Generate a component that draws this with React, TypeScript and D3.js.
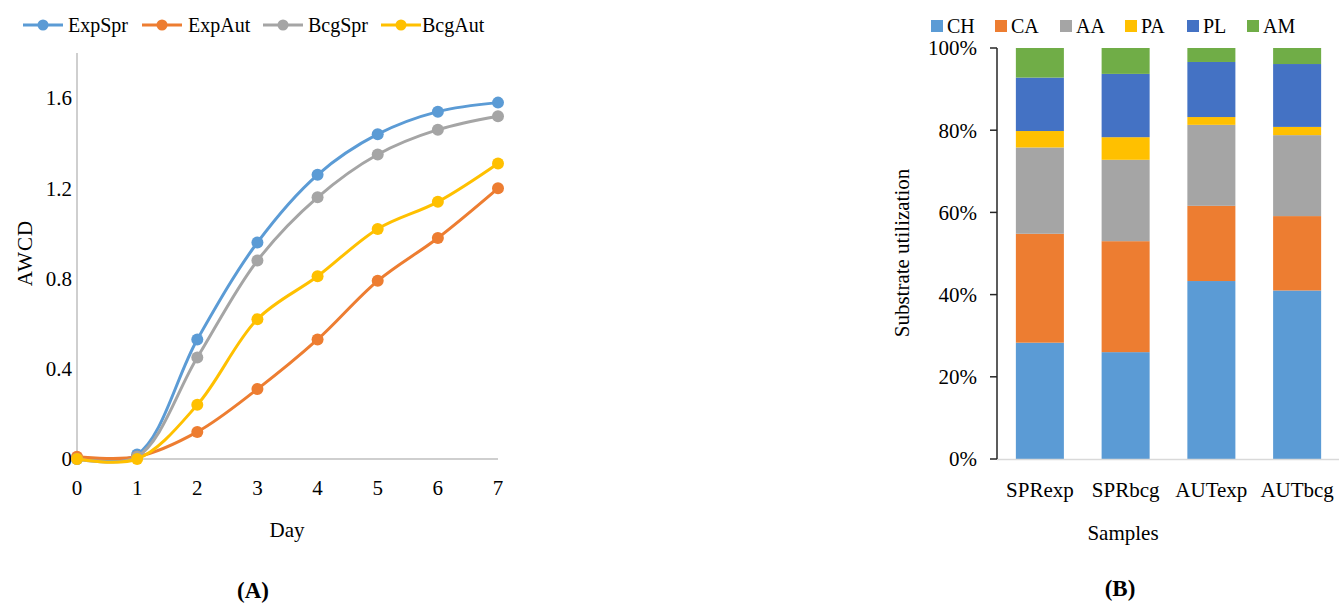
import React from "react";
import * as d3 from "d3";

const days = [0, 1, 2, 3, 4, 5, 6, 7];
const lineSeries = ["ExpSpr", "ExpAut", "BcgSpr", "BcgAut"];
const expSpr = [0, 0.02, 0.53, 0.96, 1.26, 1.44, 1.54, 1.58];
const expAut = [0.01, 0.01, 0.12, 0.31, 0.53, 0.79, 0.98, 1.2];
const bcgSpr = [0, 0.01, 0.45, 0.88, 1.16, 1.35, 1.46, 1.52];
const bcgAut = [0, 0, 0.24, 0.62, 0.81, 1.02, 1.14, 1.31];
const lineColors = ["#5B9BD5", "#ED7D31", "#A5A5A5", "#FFC000"];
const yTicksA = [0, 0.4, 0.8, 1.2, 1.6];

const samples = ["SPRexp", "SPRbcg", "AUTexp", "AUTbcg"];
const substrates = ["CH", "CA", "AA", "PA", "PL", "AM"];
const CH = [28.3, 26, 43.3, 41];
const CA = [26.5, 27, 18.3, 18.1];
const AA = [21, 19.8, 19.7, 19.7];
const PA = [4, 5.5, 1.9, 2];
const PL = [13, 15.4, 13.4, 15.3];
const AM = [7.2, 6.3, 3.4, 3.9];
const barColors = ["#5B9BD5", "#ED7D31", "#A5A5A5", "#FFC000", "#4472C4", "#70AD47"];
const yTicksB = [0, 20, 40, 60, 80, 100];

const FONT = "'Liberation Serif', 'Times New Roman', serif";

export default function App() {
  const lineData = [expSpr, expAut, bcgSpr, bcgAut];
  const x = d3.scaleLinear().domain([0, 7]).range([77, 498]);
  const y = d3.scaleLinear().domain([0, 1.8]).range([459, 53]);
  const line = d3
    .line<number>()
    .x((_, i) => x(days[i]))
    .y((d) => y(d))
    .curve(d3.curveCatmullRom.alpha(0.5));

  const legendA = [
    { lx: 23, tx: 68 },
    { lx: 142, tx: 188 },
    { lx: 263, tx: 308 },
    { lx: 381, tx: 422 },
  ];

  // Chart B
  const cols = [CH, CA, AA, PA, PL, AM];
  const rows = samples.map((s, i) => {
    const r: any = { sample: s };
    substrates.forEach((k, j) => (r[k] = cols[j][i]));
    return r;
  });
  const stacked = d3.stack().keys(substrates).offset(d3.stackOffsetExpand)(rows);
  const xb = d3.scaleBand().domain(samples).range([997, 1340]).paddingInner(0.44).paddingOuter(0.22);
  const yb = d3.scaleLinear().domain([0, 1]).range([459, 48]);
  const legendB = [931, 995, 1060, 1125, 1187, 1247];

  return (
    <svg
      width={1339}
      height={608}
      style={{ position: "absolute", left: 0, top: 0, background: "#fff" }}
      fontFamily={FONT}
    >
      <rect width={1339} height={608} fill="#fff" />
      {/* Chart A */}
      <g>
        {lineSeries.map((s, i) => (
          <g key={s}>
            <line x1={legendA[i].lx} x2={legendA[i].lx + 40} y1={25} y2={25} stroke={lineColors[i]} strokeWidth={3} />
            <circle cx={legendA[i].lx + 20} cy={25} r={5.5} fill={lineColors[i]} />
            <text x={legendA[i].tx} y={25} dy="0.35em" fontSize={20}>
              {s}
            </text>
          </g>
        ))}
        <line x1={x(0)} x2={x(0)} y1={53} y2={459} stroke="#BFBFBF" strokeWidth={1.5} />
        <line x1={x(0)} x2={x(7)} y1={459} y2={459} stroke="#BFBFBF" strokeWidth={1.5} />
        {yTicksA.map((t) => (
          <text key={t} x={72} y={y(t)} dy="0.35em" textAnchor="end" fontSize={21}>
            {t === 0 ? "0" : t.toFixed(1)}
          </text>
        ))}
        {days.map((d) => (
          <text key={d} x={x(d)} y={488} dy="0.35em" textAnchor="middle" fontSize={21}>
            {d}
          </text>
        ))}
        <text x={287} y={530} dy="0.35em" textAnchor="middle" fontSize={21}>
          Day
        </text>
        <text transform="translate(25,253) rotate(-90)" dy="0.35em" textAnchor="middle" fontSize={21} letterSpacing={1}>
          AWCD
        </text>
        {lineData.map((vals, i) => (
          <g key={i}>
            <path d={line(vals) || ""} fill="none" stroke={lineColors[i]} strokeWidth={3} />
            {vals.map((v, j) => (
              <circle key={j} cx={x(days[j])} cy={y(v)} r={6} fill={lineColors[i]} />
            ))}
          </g>
        ))}
        <text x={253} y={590} dy="0.35em" textAnchor="middle" fontSize={23} fontWeight="bold">
          (A)
        </text>
      </g>

      {/* Chart B */}
      <g>
        {substrates.map((s, i) => (
          <g key={s}>
            <rect x={legendB[i]} y={20} width={12} height={12} fill={barColors[i]} />
            <text x={legendB[i] + 16} y={26} dy="0.35em" fontSize={20}>
              {s}
            </text>
          </g>
        ))}
        {stacked.map((layer, i) => (
          <g key={substrates[i]} fill={barColors[i]}>
            {layer.map((seg, j) => (
              <rect
                key={j}
                x={xb(samples[j])}
                y={yb(seg[1])}
                width={xb.bandwidth()}
                height={yb(seg[0]) - yb(seg[1])}
              />
            ))}
          </g>
        ))}
        <line x1={997} x2={1339} y1={459.5} y2={459.5} stroke="#D9D9D9" strokeWidth={1.5} />
        <line x1={997} x2={997} y1={yb(1)} y2={yb(0)} stroke="#262626" strokeWidth={1.5} />
        {yTicksB.map((t) => (
          <g key={t}>
            <line x1={990} x2={997} y1={yb(t / 100)} y2={yb(t / 100)} stroke="#262626" strokeWidth={1.5} />
            <text x={977} y={yb(t / 100)} dy="0.35em" textAnchor="end" fontSize={21}>
              {t}%
            </text>
          </g>
        ))}
        {samples.map((s) => (
          <text key={s} x={(xb(s) || 0) + xb.bandwidth() / 2} y={490} dy="0.35em" textAnchor="middle" fontSize={21}>
            {s}
          </text>
        ))}
        <text x={1123} y={533} dy="0.35em" textAnchor="middle" fontSize={21}>
          Samples
        </text>
        <text transform="translate(902,253) rotate(-90)" dy="0.35em" textAnchor="middle" fontSize={21}>
          Substrate utilization
        </text>
        <text x={1120} y={588} dy="0.35em" textAnchor="middle" fontSize={23} fontWeight="bold">
          (B)
        </text>
      </g>
    </svg>
  );
}
